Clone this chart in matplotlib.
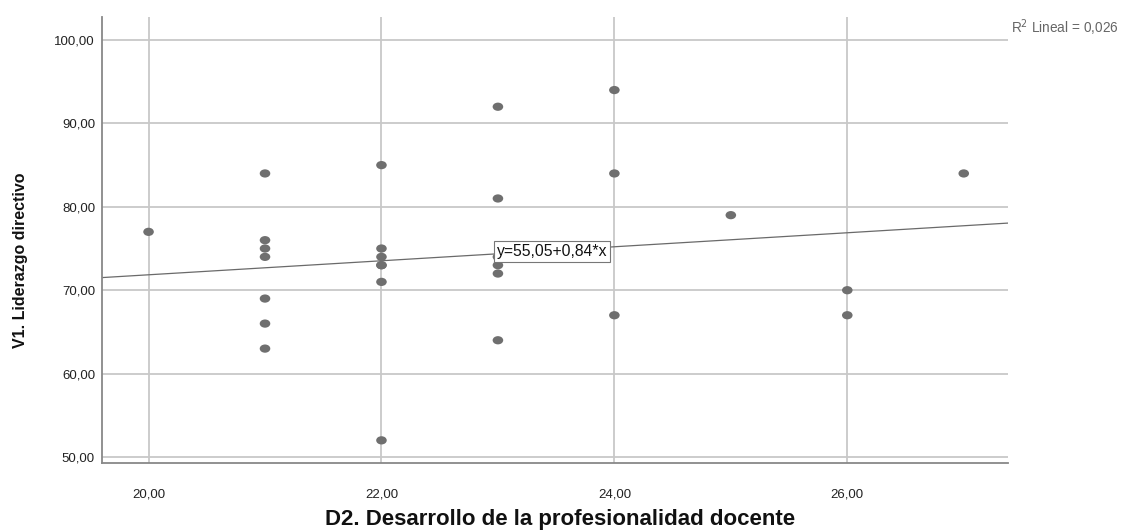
import numpy as np
import matplotlib
matplotlib.use("Agg")
import matplotlib.pyplot as plt
from matplotlib.path import Path
from matplotlib.transforms import Affine2D

plt.rcParams['font.family'] = ['Liberation Sans', 'DejaVu Sans']

# D2 score (x) and V1 score (y) per respondent
d2 = [20,
      21, 21, 21, 21, 21, 21, 21,
      22, 22, 22, 22, 22, 22, 22,
      23, 23, 23, 23, 23, 23,
      24, 24, 24,
      25,
      26, 26,
      27]
v1 = [77,
      84, 76, 75, 74, 69, 66, 63,
      85, 75, 74, 73, 73, 71, 52,
      92, 81, 74, 73, 72, 64,
      94, 84, 67,
      79,
      70, 67,
      84]

intercept = 55.05
slope = 0.84
r2 = 0.026

xticks = [20, 22, 24, 26]
yticks = [50, 60, 70, 80, 90, 100]
xlim = (19.6, 27.38)
ylim = (49.28, 102.76)


def comma(v):
    return f"{v:.2f}".replace(".", ",")


fig = plt.figure(figsize=(11.23, 5.31), dpi=100)
ax = fig.add_axes([0.0908, 0.128, 0.8068, 0.84])

ax.set_xlim(*xlim)
ax.set_ylim(*ylim)

for yt in yticks:
    ax.axhline(yt, color="#c8c8c8", lw=1.3, zorder=0)
for xt in xticks:
    ax.axvline(xt, color="#c8c8c8", lw=1.3, zorder=0)

# slightly flattened dot, like the SPSS default marker
ellipse = Path.unit_circle().transformed(Affine2D().scale(1.0, 0.78))
ax.scatter(d2, v1, marker=ellipse, s=58, color="#6f6f6f", edgecolors="none", zorder=3)

xs = np.array(xlim)
ax.plot(xs, intercept + slope * xs, color="#6a6a6a", lw=0.9, zorder=2)

eq = f"y={comma(intercept)}+{comma(slope)}*x"
ax.text(22.99, 74.6, eq, fontsize=11.3, color="#111111", ha="left", va="center", zorder=4,
        bbox=dict(boxstyle="square,pad=0.2", fc="white", ec="#777777", lw=0.8))

fig.text(0.9, 0.948, f"R$^2$ Lineal = {r2:.3f}".replace(".", ","),
         fontsize=9.8, color="#666666", ha="left", va="center")

ax.set_xticks(xticks)
ax.set_yticks(yticks)
ax.set_xticklabels([comma(t) for t in xticks])
ax.set_yticklabels([comma(t) for t in yticks])
ax.tick_params(length=0, labelsize=9.5, colors="#222222")
ax.tick_params(axis="x", pad=18)
ax.tick_params(axis="y", pad=5)

for side in ["top", "right"]:
    ax.spines[side].set_visible(False)
for side in ["left", "bottom"]:
    ax.spines[side].set_color("#888888")
    ax.spines[side].set_linewidth(1.3)

fig.text(0.4985, 0.011, "D2. Desarrollo de la profesionalidad docente", fontsize=16,
         fontweight="bold", color="#111111", ha="center", va="baseline")
fig.text(0.018, 0.51, "V1. Liderazgo directivo", fontsize=11.5, fontweight="bold",
         color="#111111", rotation=90, ha="center", va="center")

fig.savefig("out.png", dpi=100)
